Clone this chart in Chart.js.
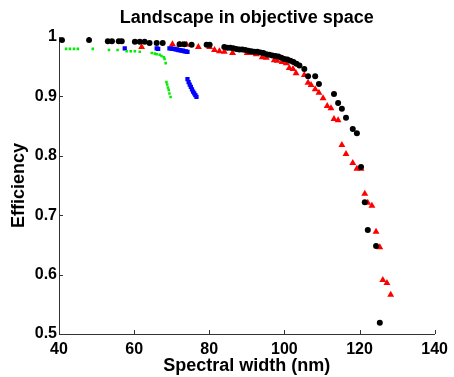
<!DOCTYPE html>
<html>
<head>
<meta charset="utf-8">
<script src="https://cdn.jsdelivr.net/npm/chart.js@4.4.1/dist/chart.umd.min.js"></script>
<style>
  html, body { margin: 0; padding: 0; background: #fff; }
  #wrap { width: 454px; height: 377px; }
</style>
</head>
<body>
<div id="wrap"><canvas id="chartId" width="454" height="377"></canvas></div>
<script>
// values
var blackX = [40.8, 48.0, 53.0, 54.1, 55.9, 56.7, 60.2, 61.5, 62.8, 64.1, 66.0, 67.6, 72.1, 73.4, 75.3, 79.3, 80.1,
  84.0, 84.8, 85.6, 86.4, 87.2, 88.0, 88.8, 89.6, 90.4, 91.2, 92.0, 92.8, 93.6, 94.4, 95.2, 96.0, 96.8, 97.6, 98.4,
  99.2, 100.0, 100.8, 101.6, 102.4, 103.2, 104.0, 105.3, 106.3, 108.2, 109.2, 113.2, 114.3, 115.3, 116.4, 118.2,
  119.3, 120.4, 121.4, 122.2, 124.4, 125.4];
var blackY = [0.995, 0.995, 0.993, 0.993, 0.993, 0.993, 0.992, 0.992, 0.992, 0.990, 0.990, 0.990, 0.988, 0.988, 0.987, 0.987, 0.987,
  0.983, 0.982, 0.982, 0.981, 0.980, 0.979, 0.979, 0.978, 0.977, 0.976, 0.975, 0.975, 0.974, 0.973, 0.971, 0.970, 0.969, 0.968, 0.967,
  0.965, 0.963, 0.962, 0.960, 0.958, 0.955, 0.952, 0.946, 0.934, 0.934, 0.921, 0.904, 0.889, 0.879, 0.864, 0.845,
  0.838, 0.781, 0.722, 0.675, 0.648, 0.519];

var redX = [62.0, 70.2, 72.1, 72.9, 74.0, 77.1, 80.1, 81.4, 82.7, 84.0, 86.2, 90.1, 91.2, 92.5, 94.1, 95.2, 97.3, 98.1,
  99.4, 100.5, 101.3, 102.3, 103.1, 105.3, 106.3, 107.1, 108.2, 109.2, 110.3, 111.4, 112.4, 113.2, 114.3, 115.3,
  116.4, 118.2, 119.3, 120.4, 121.4, 122.2, 123.3, 124.4, 125.4, 126.2, 127.3, 128.3];
var redY = [0.983, 0.988, 0.987, 0.987, 0.987, 0.983, 0.983, 0.978, 0.976, 0.975, 0.973, 0.973, 0.973, 0.971, 0.966, 0.965, 0.961, 0.960,
  0.958, 0.956, 0.948, 0.946, 0.939, 0.936, 0.923, 0.919, 0.912, 0.906, 0.897, 0.884, 0.880, 0.862, 0.860, 0.818,
  0.803, 0.788, 0.778, 0.778, 0.736, 0.721, 0.716, 0.672, 0.646, 0.591, 0.586, 0.566];

var greenX = [41.9, 42.9, 44.0, 45.0, 49.0, 53.3, 55.6, 58.0, 59.1, 60.2, 61.5, 64.7, 65.5, 66.0, 66.8, 67.3, 67.9, 68.1,
  68.4, 68.6, 68.8, 69.0, 69.2, 69.4, 69.7];
var greenY = [0.980, 0.980, 0.980, 0.980, 0.980, 0.978, 0.978, 0.976, 0.976, 0.976, 0.975, 0.973, 0.972, 0.971, 0.970, 0.968, 0.966, 0.963,
  0.956, 0.924, 0.920, 0.915, 0.911, 0.905, 0.899];

var blueX = [57.5, 66.0, 66.4, 69.4, 69.8, 70.2, 70.6, 71.0, 71.4, 71.8, 72.2, 72.6, 73.0, 73.4, 73.8, 74.2,
  74.2, 74.5, 74.8, 75.1, 75.4, 75.7, 76.0, 76.3, 76.6];
var blueY = [0.981, 0.981, 0.980, 0.981, 0.981, 0.980, 0.980, 0.979, 0.979, 0.978, 0.978, 0.977, 0.977, 0.976, 0.976, 0.975,
  0.929, 0.924, 0.920, 0.916, 0.912, 0.908, 0.905, 0.902, 0.899];

var xTicks = [40, 60, 80, 100, 120, 140];
var yTicks = [0.5, 0.6, 0.7, 0.8, 0.9, 1];

function pts(xs, ys) {
    return xs.map(function (x, i) { return { x: x, y: ys[i] }; });
}

// matlab style ticks pointing into the plot
var inTicks = {
    id: 'inTicks',
    afterDraw: function (chart) {
        var c = chart.ctx, a = chart.chartArea;
        var xs = chart.scales.x, ys = chart.scales.y;
        c.save();
        c.strokeStyle = '#333';
        c.lineWidth = 1;
        c.beginPath();
        xTicks.forEach(function (v) {
            var px = Math.round(xs.getPixelForValue(v)) + 0.5;
            c.moveTo(px, a.bottom);
            c.lineTo(px, a.bottom - 4);
        });
        yTicks.forEach(function (v) {
            var py = Math.round(ys.getPixelForValue(v)) + 0.5;
            c.moveTo(a.left, py);
            c.lineTo(a.left + 4, py);
        });
        c.stroke();
        c.restore();
    }
};

var chrt = document.getElementById("chartId").getContext("2d");
var chartId = new Chart(chrt, {
    type: 'scatter',
    data: {
        datasets: [{
            label: 'black',
            data: pts(blackX, blackY),
            backgroundColor: '#000',
            borderColor: '#000',
            pointStyle: 'circle',
            pointRadius: 3,
            borderWidth: 0
        }, {
            label: 'red',
            data: pts(redX, redY),
            backgroundColor: '#ff0000',
            borderColor: '#ff0000',
            pointStyle: 'triangle',
            pointRadius: 4,
            borderWidth: 0
        }, {
            label: 'green',
            data: pts(greenX, greenY),
            backgroundColor: '#00ee00',
            borderColor: '#00ee00',
            pointStyle: 'rect',
            pointRadius: 1.8,
            borderWidth: 0
        }, {
            label: 'blue',
            data: pts(blueX, blueY),
            backgroundColor: '#0000ff',
            borderColor: '#0000ff',
            pointStyle: 'rect',
            pointRadius: 3,
            borderWidth: 0
        }]
    },
    options: {
        responsive: false,
        animation: false,
        events: [],
        layout: { padding: { left: 0, right: 18, top: 0, bottom: 0 } },
        plugins: {
            legend: { display: false },
            tooltip: { enabled: false },
            title: {
                display: true,
                text: 'Landscape in objective space',
                fullSize: false,
                color: '#000',
                font: { family: 'Liberation Sans, Arial, sans-serif', size: 18, weight: 'bold', lineHeight: 1.2 },
                padding: { top: 7, bottom: 8.4 }
            }
        },
        scales: {
            x: {
                type: 'linear',
                min: 40, max: 140,
                afterBuildTicks: function (s) { s.ticks = xTicks.map(function (v) { return { value: v }; }); },
                afterFit: function (s) { s.height = 43; },
                grid: { display: true, drawOnChartArea: false, drawTicks: false, color: '#333' },
                border: { display: true, color: '#333', width: 1 },
                ticks: {
                    color: '#000',
                    padding: 6,
                    maxRotation: 0,
                    font: { family: 'Liberation Sans, Arial, sans-serif', size: 16, weight: 'bold' }
                },
                title: {
                    display: true,
                    text: 'Spectral width (nm)',
                    color: '#000',
                    font: { family: 'Liberation Sans, Arial, sans-serif', size: 18, weight: 'bold', lineHeight: 1.1 },
                    padding: { top: 0, bottom: 1 }
                }
            },
            y: {
                type: 'linear',
                min: 0.5, max: 1,
                afterBuildTicks: function (s) { s.ticks = yTicks.map(function (v) { return { value: v }; }); },
                afterFit: function (s) { s.width = 59; },
                grid: { display: true, drawOnChartArea: false, drawTicks: false, color: '#333' },
                border: { display: true, color: '#333', width: 1 },
                ticks: {
                    color: '#000',
                    padding: 2,
                    callback: function (v) { return String(+v.toFixed(1)); },
                    font: { family: 'Liberation Sans, Arial, sans-serif', size: 16, weight: 'bold' }
                },
                title: {
                    display: true,
                    text: 'Efficiency',
                    color: '#000',
                    font: { family: 'Liberation Sans, Arial, sans-serif', size: 18, weight: 'bold', lineHeight: 1.1 },
                    padding: { top: 9, bottom: 0 }
                }
            }
        }
    },
    plugins: [inTicks]
});
</script>
</body>
</html>
